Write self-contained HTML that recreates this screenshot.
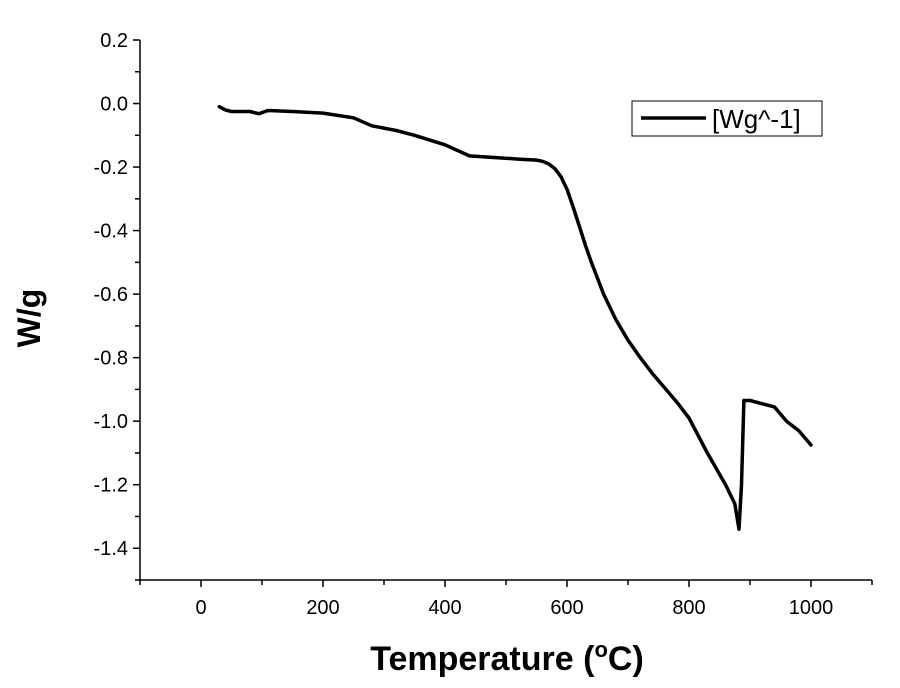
<!DOCTYPE html>
<html><head><meta charset="utf-8"><style>
body{margin:0;background:#fff;}
svg{display:block;font-family:"Liberation Sans",Arial,sans-serif;}
</style></head><body>
<svg id="chart" width="900" height="688" viewBox="0 0 900 688">
<g id="axes"></g>
<path id="series" fill="none" stroke="#000" stroke-width="3.5" stroke-linejoin="round" stroke-linecap="round"/>
<g>
<rect x="632" y="101" width="190" height="35" fill="#fff" stroke="#000" stroke-width="1"/>
<line x1="641" y1="118" x2="706" y2="118" stroke="#000" stroke-width="3.5"/>
<text x="712" y="128" font-size="26">[Wg^-1]</text>
</g>
<text transform="translate(40,318) rotate(-90)" text-anchor="middle" font-size="32" font-weight="bold">W/g</text>
<text x="507" y="670" text-anchor="middle" font-size="34" font-weight="bold">Temperature (<tspan font-size="22" dy="-13">o</tspan><tspan dy="13">C)</tspan></text>
</svg>
<script>
const temps=[30,40,50,80,95,110,150,200,250,280,320,350,400,440,480,520,550,560,570,580,590,600,610,620,630,640,650,660,680,700,720,740,760,780,800,830,860,875,882,886,890,900,940,960,980,1000];
const values=[-0.01,-0.02,-0.025,-0.025,-0.032,-0.022,-0.025,-0.03,-0.045,-0.07,-0.085,-0.1,-0.13,-0.165,-0.17,-0.175,-0.178,-0.182,-0.19,-0.205,-0.23,-0.27,-0.325,-0.385,-0.445,-0.50,-0.55,-0.60,-0.68,-0.745,-0.80,-0.85,-0.895,-0.94,-0.99,-1.1,-1.2,-1.26,-1.34,-1.2,-0.935,-0.935,-0.955,-1.0,-1.03,-1.075];
const xTicks=[0,200,400,600,800,1000];
const yTicks=[0.2,0.0,-0.2,-0.4,-0.6,-0.8,-1.0,-1.2,-1.4];
const X0=140,X1=872,XMIN=-100,XMAX=1100,Y0=40,Y1=580,YMAX=0.2,YMIN=-1.5;
function sx(v){return X0+(v-XMIN)/(XMAX-XMIN)*(X1-X0);}
function sy(v){return Y0+(YMAX-v)/(YMAX-YMIN)*(Y1-Y0);}
const NS="http://www.w3.org/2000/svg";
const ax=document.getElementById('axes');
function el(t,a){const e=document.createElementNS(NS,t);for(const k in a)e.setAttribute(k,a[k]);ax.appendChild(e);return e;}
let l=el('line',{x1:X0,y1:Y0,x2:X0,y2:Y1,stroke:'#000','stroke-width':1.5});


l=el('line',{x1:X0,y1:Y1,x2:X1,y2:Y1,stroke:'#000','stroke-width':1.5});


for(let v=-100;v<=1100;v+=100){const x=sx(v);const major=xTicks.includes(v);
 const t=el('line',{x1:x,y1:Y1,x2:x,y2:Y1+(major?7:5),stroke:'#000','stroke-width':1.5});
 
 }
xTicks.forEach(v=>{const t=el('text',{x:sx(v),y:Y1+34,'text-anchor':'middle','font-size':20});t.textContent=v;
 
 });
for(let i=0;i<=17;i++){const v=0.2-i*0.1;const y=sy(v);const major=i%2===0&&i<=16;
 const t=el('line',{x1:X0,y1:y,x2:X0-(major?7:5),y2:y,stroke:'#000','stroke-width':1.5});
 
 }
yTicks.forEach(v=>{const t=el('text',{x:X0-12,y:sy(v)+7,'text-anchor':'end','font-size':20});t.textContent=v.toFixed(1);
 
 });
document.getElementById('series').setAttribute('d',temps.map((t,i)=>(i?'L':'M')+sx(t).toFixed(1)+','+sy(values[i]).toFixed(1)).join(''));
</script>
</body></html>
